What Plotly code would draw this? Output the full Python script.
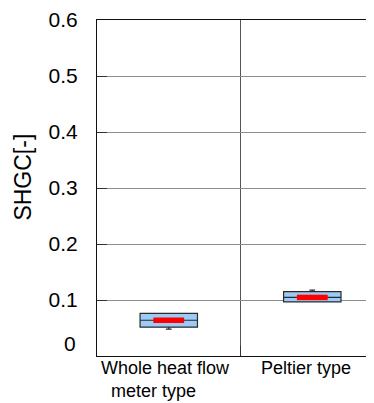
import plotly.graph_objects as go

categories = ["Whole heat flow meter type", "Peltier type"]
label_lines = [["Whole heat flow", "&nbsp;&nbsp;meter type"], ["Peltier type"]]
q1 = [0.0515, 0.0965]
median = [0.0638, 0.1046]
q3 = [0.0762, 0.1150]
lowerfence = [0.0480, 0.0965]
upperfence = [0.0762, 0.1175]
y_ticks = [0.1, 0.2, 0.3, 0.4, 0.5, 0.6]
y_tick_text = ["0.1", "0.2", "0.3", "0.4", "0.5", "0.6"]
y_title = "SHGC[-]"

pos = list(range(len(categories)))
font = "Liberation Sans, Arial, sans-serif"

fig = go.Figure()
fig.add_trace(go.Box(
    x=pos, q1=q1, median=median, q3=q3,
    lowerfence=lowerfence, upperfence=upperfence,
    fillcolor="#9DCBF7", line=dict(color="#2b2b2b", width=1.2),
    width=0.4, whiskerwidth=0.1, boxpoints=False, showlegend=False,
    hoverinfo="skip",
))
fig.add_trace(go.Scatter(
    x=pos, y=median, mode="markers",
    marker=dict(symbol="line-ew", size=22, line=dict(color="#FF0000", width=5.5)),
    showlegend=False, hoverinfo="skip",
))

# page body has an 8px default margin, so the figure is sized/offset for it
fig.update_layout(
    width=366, height=395,
    margin=dict(l=89, r=0, t=10, b=47),
    plot_bgcolor="white", paper_bgcolor="white",
    font=dict(family=font, color="#000000"),
    xaxis=dict(
        range=[-0.5, 1.43], tickvals=[0.5], showticklabels=False,
        ticks="inside", ticklen=10, tickcolor="#333333",
        showgrid=True, gridcolor="#555555", gridwidth=1,
        showline=True, linecolor="#111111", linewidth=1.2, mirror=True,
        zeroline=False,
    ),
    yaxis=dict(
        range=[0, 0.6], tickvals=y_ticks, ticktext=y_tick_text,
        tickfont=dict(size=21, family=font, color="#000000"),
        ticks="inside", ticklen=10, tickcolor="#333333",
        ticklabelstandoff=14, ticklabeloverflow="allow",
        showgrid=True, gridcolor="#8c8c8c", gridwidth=1,
        showline=True, linecolor="#111111", linewidth=1.2,
        zeroline=False,
    ),
)

# "0" tick label (placed slightly above the axis, like the original)
fig.add_annotation(x=0, xref="paper", y=0.023, yref="y", text="0",
                   showarrow=False, xanchor="right", yanchor="middle",
                   xshift=-19, font=dict(size=21, family=font, color="#000000"))

# y title
fig.add_annotation(x=0, xref="paper", y=0.5325, yref="paper", text=y_title,
                   textangle=-90, showarrow=False, xanchor="center", yanchor="middle",
                   xshift=-73.5, font=dict(size=23, family=font, color="#000000"))

# category labels
shifts = [-3.5, -6]
for p, lines, s in zip(pos, label_lines, shifts):
    fig.add_annotation(x=p, xref="x", y=0, yref="paper", text="<br>".join(lines),
                       showarrow=False, xanchor="center", yanchor="top", align="left",
                       xshift=s, yshift=-1, borderpad=0,
                       font=dict(size=18, family=font, color="#000000"))

fig.write_html("out.html")
